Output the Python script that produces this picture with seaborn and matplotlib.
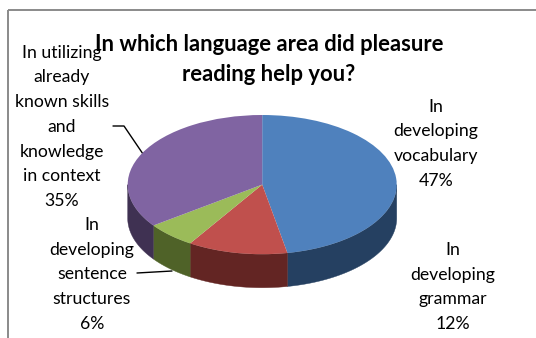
import numpy as np
import matplotlib
matplotlib.use("Agg")
import matplotlib.pyplot as plt
import seaborn as sns
from matplotlib.patches import Polygon, Rectangle

# Survey answers, clockwise from 12 o'clock
categories = [
    ["In", "developing", "vocabulary"],
    ["In", "developing", "grammar"],
    ["In", "developing", "sentence", "structures"],
    ["In utilizing", "already", "known skills", "and", "knowledge", "in context"],
]
shares = [47, 12, 6, 35]
title_lines = ["In which language area did pleasure", "reading help you?"]

top_colors = ["#4f81bd", "#c0504d", "#9bbb59", "#8064a2"]
side_colors = ["#254061", "#632523", "#4f6228", "#3f3152"]

sns.set_theme(style="white")
plt.rcParams["font.family"] = ["Lato", "DejaVu Sans"]

W, H = 536, 338
fig = plt.figure(figsize=(W / 100, H / 100), dpi=100)

# Full-figure axes in pixel units for the frame, title and labels
bg = fig.add_axes([0, 0, 1, 1])
bg.set_xlim(0, W)
bg.set_ylim(H, 0)
bg.axis("off")
bg.add_patch(Rectangle((8, 10), 700, 500, fill=False, edgecolor="#8a8a8a", lw=1.4))

# Pie axes: unit circle stretched into a tilted ellipse
cx, cy, rx, ry, depth = 262.2, 184.6, 134.5, 69.6, 33.5
xpad, ytop, ybot = 1.25, 1.25, 1.7
left = cx - xpad * rx
width = 2 * xpad * rx
top = cy - ytop * ry
height = (ytop + ybot) * ry
ax = fig.add_axes([left / W, (H - (top + height)) / H, width / W, height / H])
wedges, _ = ax.pie(shares, colors=top_colors, startangle=90, counterclock=False,
                   wedgeprops=dict(linewidth=0))
ax.set_aspect("auto")
ax.set_xlim(-xpad, xpad)
ax.set_ylim(-ybot, ytop)
ax.axis("off")

# Extruded rim: front half of each wedge's arc, pushed down by the depth
d = depth / ry
for w, col in zip(wedges, side_colors):
    t1, t2 = w.theta1, w.theta2
    for k in range(-2, 2):
        a = max(t1, -180 + 360 * k)
        b = min(t2, 0 + 360 * k)
        if b - a <= 0:
            continue
        t = np.radians(np.linspace(a, b, 80))
        xs = np.cos(t)
        ys = np.sin(t)
        pts = np.concatenate([np.column_stack([xs, ys]),
                              np.column_stack([xs[::-1], ys[::-1] - d])])
        ax.add_patch(Polygon(pts, closed=True, facecolor=col, edgecolor=col,
                             lw=0.3, zorder=0.5))

# Title
for i, line in enumerate(title_lines):
    bg.text(269, 50.7 + 30.3 * i, line, ha="center", va="baseline",
            fontsize=15.8, fontweight="bold", color="black")

# Data labels
step = 24.7
label_pos = [(436, 111.7), (453, 255.0), (92, 230.0), (62, 57.7)]
for lines, share, (lx, ly) in zip(categories, shares, label_pos):
    for i, line in enumerate(lines + [f"{share}%"]):
        bg.text(lx, ly + step * i, line, ha="center", va="baseline",
                fontsize=12.7, color="black")

# Leader lines
bg.plot([113, 124, 143], [126, 126, 154], color="black", lw=1)
bg.plot([137, 172], [273, 271], color="black", lw=1)

fig.savefig("out.png", dpi=100)
